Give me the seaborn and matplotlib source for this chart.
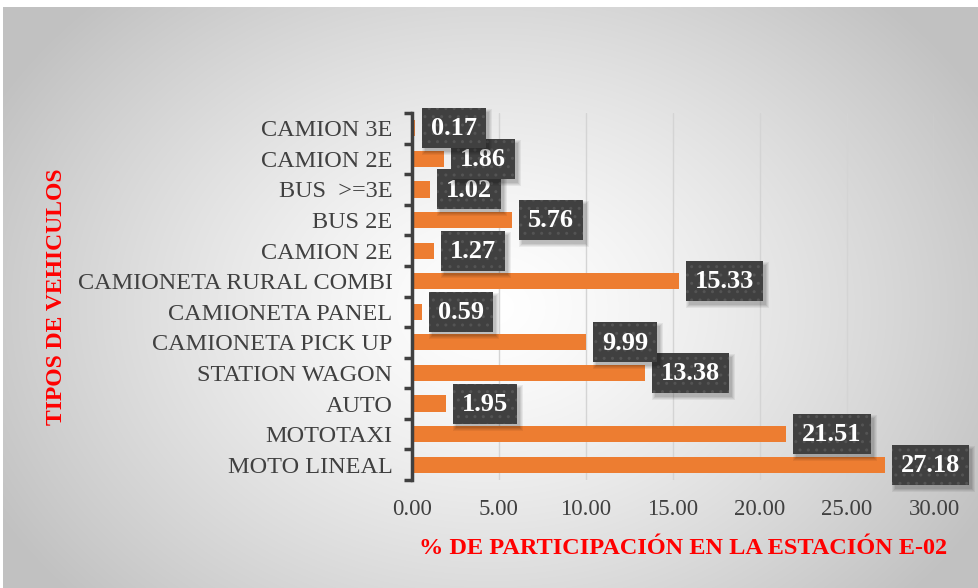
import numpy as np
import pandas as pd
import matplotlib
matplotlib.use("Agg")
import matplotlib.pyplot as plt
import seaborn as sns
from matplotlib.ticker import FixedLocator
from matplotlib.patches import Rectangle
from matplotlib.transforms import IdentityTransform

categories = ["CAMION 3E", "CAMION 2E", "BUS  >=3E", "BUS 2E", "CAMION 2E",
              "CAMIONETA RURAL COMBI", "CAMIONETA PANEL", "CAMIONETA PICK UP",
              "STATION WAGON", "AUTO", "MOTOTAXI", "MOTO LINEAL"]
values = [0.17, 1.86, 1.02, 5.76, 1.27, 15.33, 0.59, 9.99, 13.38, 1.95, 21.51, 27.18]
x_ticks = [0, 5, 10, 15, 20, 25, 30]
x_title = "% DE PARTICIPACIÓN EN LA ESTACIÓN E-02"
y_title = "TIPOS DE VEHICULOS"

sns.set_theme(style="white")
plt.rcParams['font.family'] = ['Liberation Serif', 'DejaVu Serif']
plt.rcParams['hatch.color'] = "#545454"
plt.rcParams['hatch.linewidth'] = 1.0

W, H = 979, 588
fig = plt.figure(figsize=(W / 100, H / 100), dpi=100)
fig.patch.set_facecolor("white")

# background gradient panel
bg = fig.add_axes([3 / W, 0, 1 - 3 / W, 1 - 7 / H])
bg.set_axis_off()
yy, xx = np.mgrid[0:581, 0:976]
cx, cy = 487, 300
d = np.sqrt(((xx - cx) / 560.0) ** 2 + ((yy - cy) / 430.0) ** 2)
d = np.clip(d, 0, 1)
lum = 1.0 - 0.24 * d ** 1.3
img = np.dstack([lum, lum, lum])
bg.imshow(img, aspect="auto", extent=[0, 1, 0, 1], origin="upper")
bg.set_zorder(0)

ax = fig.add_axes([412 / W, 1 - 480 / H, (934 - 412) / W, (480 - 113) / H])
ax.set_zorder(1)
ax.patch.set_alpha(0)

df = pd.DataFrame({"key": [f"{i}" for i in range(len(categories))],
                   "value": values})
sns.barplot(data=df, x="value", y="key", orient="h", color="#ED7D31",
            saturation=1, width=0.53, linewidth=0, ax=ax, zorder=2)

ax.set_xlim(0, 30)
ax.set_ylim(len(categories) - 0.5, -0.5)
ax.xaxis.set_major_locator(FixedLocator(x_ticks))
ax.set_xticklabels([f"{t:.2f}" for t in x_ticks])
ax.set_yticks(range(len(categories)))
ax.set_yticklabels(categories)
ax.yaxis.set_minor_locator(FixedLocator(np.arange(-0.5, len(categories), 1)))
ax.tick_params(axis="y", which="major", length=0, pad=14, labelsize=17.5, labelcolor="#404040")
ax.tick_params(axis="y", which="minor", length=6, width=2.5, color="#404040", left=True)
ax.tick_params(axis="x", length=0, pad=14, labelsize=16.5, labelcolor="#404040")
ax.grid(axis="x", color="#d4d4d4", linewidth=1, zorder=0)
ax.set_axisbelow(True)
for s in ["top", "right", "bottom"]:
    ax.spines[s].set_visible(False)
ax.spines["left"].set_color("#404040")
ax.spines["left"].set_linewidth(2.5)
ax.spines["left"].set_zorder(3)

ax.set_xlabel(x_title, color="red", fontweight="bold", fontsize=17.5)
ax.xaxis.set_label_coords(0.52, -0.158)
ax.set_ylabel(y_title, color="red", fontweight="bold", fontsize=17)
ax.yaxis.set_label_coords(-0.66, 0.5)

fs = 19
n = len(values)
texts = []
for i, v in enumerate(values):
    z = 10 + 2 * (n - i)
    t = ax.annotate(f"{v:.2f}", xy=(v, i), xytext=(16 / 1.389, -0.5), textcoords="offset points",
                    ha="left", va="center", fontsize=fs, fontweight="bold", color="white",
                    zorder=z + 1, annotation_clip=False)
    texts.append((t, i, z))

fig.canvas.draw()
renderer = fig.canvas.get_renderer()
for t, i, z in texts:
    bb = t.get_window_extent(renderer)
    yc = ax.transData.transform((0, i))[1]
    bw = bb.width + 18
    bh = 40
    x0 = bb.x0 - 9
    y0 = yc - bh / 2
    # soft shadow
    for k, a in enumerate([0.06, 0.06, 0.07, 0.08]):
        g = 3 - k
        ax.add_patch(Rectangle((x0 + 3 - g, y0 - 4 - g), bw + 2 * g, bh + 2 * g,
                               transform=IdentityTransform(), fc=(0, 0, 0, a), ec="none",
                               zorder=z - 0.5, clip_on=False))
    ax.add_patch(Rectangle((x0, y0), bw, bh, transform=IdentityTransform(),
                           fc="#404040", ec="#545454", lw=0, hatch="..",
                           zorder=z, clip_on=False))

fig.savefig("out.png", dpi=100)
